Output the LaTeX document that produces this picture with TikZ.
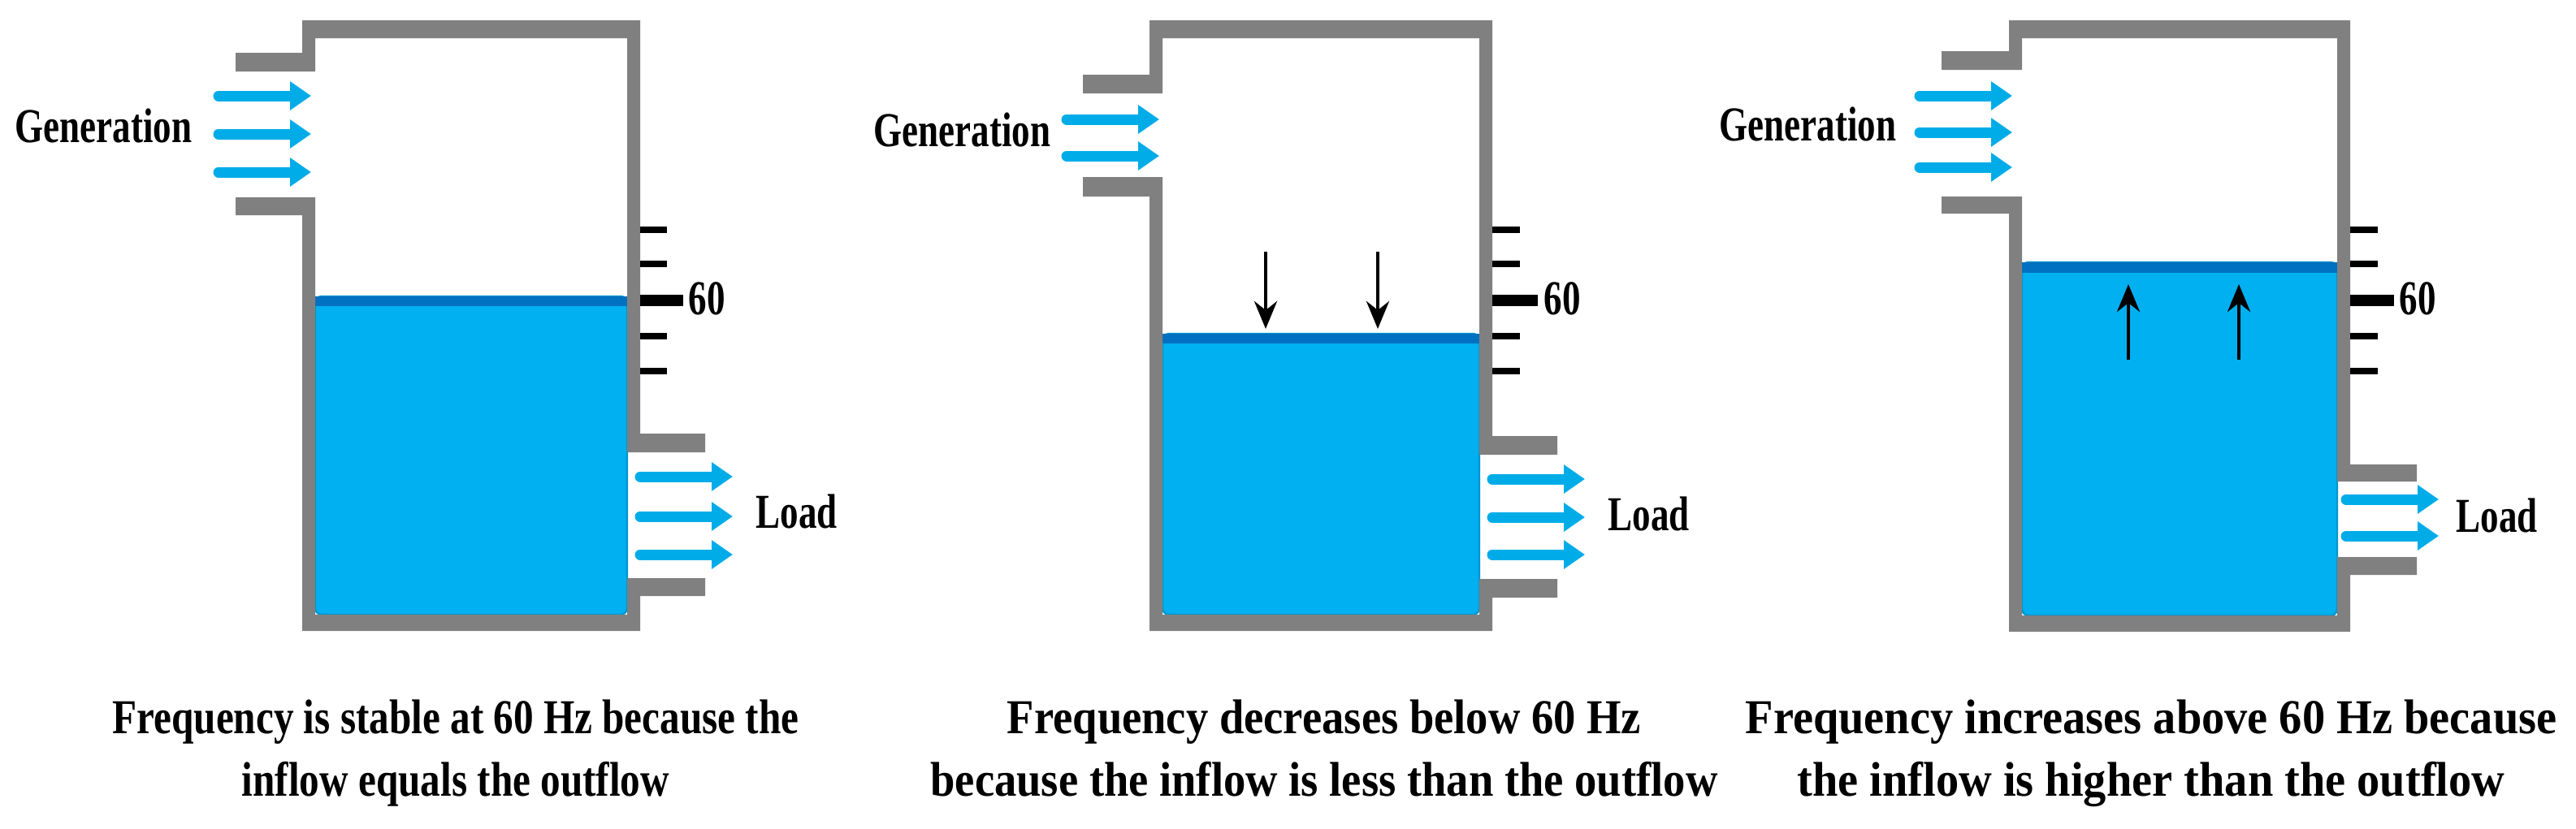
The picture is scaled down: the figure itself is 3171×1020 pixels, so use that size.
\documentclass[tikz,border=0pt]{standalone}
\usepackage{fontspec}
\setmainfont{Liberation Serif}[FakeStretch=0.75]
\newfontfamily\capfonta{Liberation Serif}[FakeStretch=0.82]
\newfontfamily\capfontb{Liberation Serif}[FakeStretch=0.91]
\newfontfamily\capfontc{Liberation Serif}[FakeStretch=0.94]
\usetikzlibrary{arrows.meta}
\definecolor{wallgray}{RGB}{128,128,128}
\definecolor{waterblue}{RGB}{0,176,240}
\definecolor{wateredge}{RGB}{0,150,205}
\definecolor{surfaceblue}{RGB}{0,112,192}
\definecolor{flowblue}{RGB}{0,172,232}
\tikzset{
  wall/.style={fill=wallgray},
  water/.style={fill=waterblue, draw=wateredge, line width=0.6pt, rounded corners=2pt},
  surface/.style={fill=surfaceblue},
  flowarrow/.style={draw=flowblue, line width=3.25pt, line cap=round, -{Triangle[width=8.5pt,length=6.5pt,fill=flowblue]}},
  levelarrow/.style={draw=black, line width=1.2pt, -{Stealth[width=7pt,length=8.5pt]}},
  scaletick/.style={draw=black, line width=2pt},
  scalemajor/.style={draw=black, line width=3.5pt},
  lbl/.style={font=\bfseries\fontsize{15}{19}\selectfont, inner sep=0pt},
  captiontext/.style={font={#1\bfseries\fontsize{15}{19.25}\selectfont}, align=center, inner sep=0pt, anchor=base}
}
\begin{document}
\begin{tikzpicture}[x=0.25pt,y=0.25pt,yscale=-1,xscale=1]
\useasboundingbox (0,0) rectangle (3171,1020);
% tank 1: stable
\path[water] (388,365) rectangle (772,757);
\fill[surface] (388,365) rectangle (772,377);
\fill[wall] (372,25) rectangle (788,47) (372,25) rectangle (388,88)
  (290,65) rectangle (388,88) (290,243) rectangle (388,265)
  (372,243) rectangle (388,777) (372,757) rectangle (788,777)
  (772,25) rectangle (788,557) (772,534) rectangle (868,557)
  (772,712) rectangle (868,734) (772,712) rectangle (788,777);
\draw[flowarrow] (269,118) -- (383,118);
\draw[flowarrow] (269,165) -- (383,165);
\draw[flowarrow] (269,212) -- (383,212);
\draw[flowarrow] (788,587) -- (902,587);
\draw[flowarrow] (788,636) -- (902,636);
\draw[flowarrow] (788,683) -- (902,683);
\draw[scaletick] (788,283) -- (821,283) (788,325) -- (821,325)
  (788,414) -- (821,414) (788,457) -- (821,457);
\draw[scalemajor] (788,370) -- (841,370);
\node[lbl, anchor=west] (sixty1) at (847,368) {60};
\node[lbl, anchor=base east] (gen1) at (237,175) {Generation};
\node[lbl, anchor=base west] (load1) at (930,650) {Load};
\node[captiontext=\capfonta] (cap1) at (561,980) {Frequency is stable at 60 Hz because the\\inflow equals the outflow};
% tank 2: frequency falls
\path[water] (1431,411) rectangle (1821,757);
\fill[surface] (1431,411) rectangle (1821,423);
\fill[wall] (1415,25) rectangle (1837,47) (1415,25) rectangle (1431,115)
  (1333,92) rectangle (1431,115) (1333,218) rectangle (1431,242)
  (1415,218) rectangle (1431,777) (1415,757) rectangle (1837,777)
  (1821,25) rectangle (1837,560) (1821,537) rectangle (1917,560)
  (1821,713) rectangle (1917,736) (1821,713) rectangle (1837,777);
\draw[flowarrow] (1313,147) -- (1427,147);
\draw[flowarrow] (1313,192) -- (1427,192);
\draw[flowarrow] (1837,590) -- (1951,590);
\draw[flowarrow] (1837,637) -- (1951,637);
\draw[flowarrow] (1837,683) -- (1951,683);
\draw[levelarrow] (1558,310) -- (1558,405);
\draw[levelarrow] (1696,310) -- (1696,405);
\draw[scaletick] (1837,283) -- (1871,283) (1837,325) -- (1871,325)
  (1837,414) -- (1871,414) (1837,457) -- (1871,457);
\draw[scalemajor] (1837,370) -- (1893,370);
\node[lbl, anchor=west] (sixty2) at (1900,368) {60};
\node[lbl, anchor=base east] (gen2) at (1294,180) {Generation};
\node[lbl, anchor=base west] (load2) at (1979,653) {Load};
\node[captiontext=\capfontb] (cap2) at (1630,980) {Frequency decreases below 60 Hz\\because the inflow is less than the outflow};
% tank 3: frequency rises
\path[water] (2489,323) rectangle (2877,758);
\fill[surface] (2489,323) rectangle (2877,336);
\fill[wall] (2473,25) rectangle (2893,47) (2473,25) rectangle (2489,86)
  (2390,63) rectangle (2489,86) (2390,242) rectangle (2489,263)
  (2473,242) rectangle (2489,778) (2473,758) rectangle (2893,778)
  (2877,25) rectangle (2893,593) (2877,572) rectangle (2975,593)
  (2877,686) rectangle (2975,708) (2877,686) rectangle (2893,778);
\draw[flowarrow] (2363,118) -- (2477,118);
\draw[flowarrow] (2363,163) -- (2477,163);
\draw[flowarrow] (2363,206) -- (2477,206);
\draw[flowarrow] (2888,615) -- (3002,615);
\draw[flowarrow] (2888,660) -- (3002,660);
\draw[levelarrow] (2620,443) -- (2620,350);
\draw[levelarrow] (2756,443) -- (2756,350);
\draw[scaletick] (2893,283) -- (2927,283) (2893,325) -- (2927,325)
  (2893,414) -- (2927,414) (2893,457) -- (2927,457);
\draw[scalemajor] (2893,370) -- (2947,370);
\node[lbl, anchor=west] (sixty3) at (2953,368) {60};
\node[lbl, anchor=base east] (gen3) at (2335,173) {Generation};
\node[lbl, anchor=base west] (load3) at (3023,655) {Load};
\node[captiontext=\capfontc] (cap3) at (2648,980) {Frequency increases above 60 Hz because\\the inflow is higher than the outflow};
\end{tikzpicture}
\end{document}
